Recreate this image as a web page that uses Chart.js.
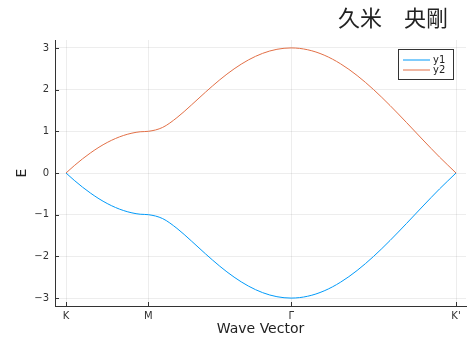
<!DOCTYPE html>
<html>
<head>
<meta charset="utf-8">
<script src="https://cdn.jsdelivr.net/npm/chart.js@4/dist/chart.umd.min.js"></script>
<style>
    body { margin: 0; background: #fff; }
    #wrap { width: 473px; height: 338px; }
</style>
</head>
<body>
<div id="wrap"><canvas id="chart1" width="473" height="338"></canvas></div>
<script>
// ===== Data =====
const waveVector = [
    0, 0.1, 0.2, 0.3, 0.4, 0.5, 0.6, 0.7, 0.8, 0.9, 1,
    1.173, 1.346, 1.520, 1.693, 1.866, 2.039, 2.212, 2.386, 2.559, 2.732,
    2.932, 3.132, 3.332, 3.532, 3.732, 3.932, 4.132, 4.332, 4.532, 4.732
];
const y1 = [
    0, -0.176, -0.339, -0.486, -0.618, -0.732, -0.827, -0.902, -0.956, -0.989, -1.000,
    -1.094, -1.328, -1.628, -1.940, -2.236, -2.497, -2.711, -2.870, -2.967, -3.000,
    -2.956, -2.827, -2.618, -2.338, -2.000, -1.618, -1.209, -0.791, -0.382, 0
];
const y2 = [
    0, 0.176, 0.339, 0.486, 0.618, 0.732, 0.827, 0.902, 0.956, 0.989, 1.000,
    1.094, 1.328, 1.628, 1.940, 2.236, 2.497, 2.711, 2.870, 2.967, 3.000,
    2.956, 2.827, 2.618, 2.338, 2.000, 1.618, 1.209, 0.791, 0.382, 0
];
const xTickPos = [0, 1, 2.732, 4.732];
const xTickLabels = ["K", "M", "Γ", "K'"];
const yTicks = [-3, -2, -1, 0, 1, 2, 3];
const seriesNames = ["y1", "y2"];
const seriesColors = ["#009af9", "#e26f46"];

const axisColor = "#333333";
const gridColor = "rgba(0,0,0,0.07)";

// ===== Extras: title, axis labels, inward ticks, legend =====
const decor = {
    id: "decor",
    afterDraw(chart) {
        const ctx = chart.ctx;
        const a = chart.chartArea;
        const xs = chart.scales.x;
        const ys = chart.scales.y;
        ctx.save();

        // inward tick marks
        ctx.strokeStyle = axisColor;
        ctx.lineWidth = 1;
        ctx.beginPath();
        xTickPos.forEach(v => {
            const px = Math.round(xs.getPixelForValue(v)) + 0.5;
            ctx.moveTo(px, a.bottom);
            ctx.lineTo(px, a.bottom - 4);
        });
        yTicks.forEach(v => {
            const py = Math.round(ys.getPixelForValue(v)) + 0.5;
            ctx.moveTo(a.left, py);
            ctx.lineTo(a.left + 4, py);
        });
        ctx.stroke();

        // title
        ctx.fillStyle = "#222";
        ctx.font = "22px 'Noto Sans CJK JP'";
        ctx.textAlign = "right";
        ctx.textBaseline = "alphabetic";
        ctx.fillText("久米　央剛", 448, 26);

        // axis labels
        ctx.font = "14px 'DejaVu Sans'";
        ctx.textAlign = "center";
        ctx.textBaseline = "middle";
        ctx.fillText("Wave Vector", (a.left + a.right) / 2, 329);
        ctx.save();
        ctx.translate(22, (a.top + a.bottom) / 2);
        ctx.rotate(-Math.PI / 2);
        ctx.fillText("E", 0, 0);
        ctx.restore();

        // legend box
        ctx.fillStyle = "#fff";
        ctx.fillRect(398.5, 49.5, 55, 30);
        ctx.strokeStyle = axisColor;
        ctx.strokeRect(398.5, 49.5, 55, 30);
        ctx.font = "10px 'DejaVu Sans'";
        ctx.textAlign = "left";
        chart.data.datasets.forEach((ds, i) => {
            const ly = 60 + i * 10;
            ctx.strokeStyle = ds.borderColor;
            ctx.beginPath();
            ctx.moveTo(403, ly);
            ctx.lineTo(430, ly);
            ctx.stroke();
            ctx.fillStyle = "#222";
            ctx.fillText(ds.label, 433, ly);
        });

        ctx.restore();
    }
};

const ctx1 = document.getElementById("chart1");

new Chart(ctx1, {
    type: "line",
    data: {
        datasets: [y1, y2].map((vals, i) => ({
            label: seriesNames[i],
            data: waveVector.map((x, j) => ({ x: x, y: vals[j] })),
            borderColor: seriesColors[i],
            borderWidth: 1,
            pointRadius: 0,
            fill: false,
            cubicInterpolationMode: "monotone"
        }))
    },
    options: {
        responsive: false,
        animation: false,
        layout: { padding: { top: 40, right: 7, left: 0, bottom: 0 } },
        plugins: {
            legend: { display: false },
            tooltip: { enabled: false }
        },
        scales: {
            x: {
                type: "linear",
                min: -0.1335,
                max: 4.853,
                afterBuildTicks: s => { s.ticks = xTickPos.map(v => ({ value: v })); },
                afterFit: s => { s.height = 32; },
                ticks: {
                    autoSkip: false,
                    maxRotation: 0,
                    padding: 4,
                    color: "#333",
                    font: { family: "DejaVu Sans", size: 10 },
                    callback: (v, i) => xTickLabels[i]
                },
                grid: { color: gridColor, drawTicks: false },
                border: { color: axisColor, width: 1 }
            },
            y: {
                min: -3.19,
                max: 3.19,
                afterBuildTicks: s => { s.ticks = yTicks.map(v => ({ value: v })); },
                afterFit: s => { s.width = 55; },
                ticks: {
                    padding: 6,
                    color: "#333",
                    font: { family: "DejaVu Sans", size: 10 },
                    callback: v => v < 0 ? "\u2212" + Math.abs(v) : String(v)
                },
                grid: { color: gridColor, drawTicks: false },
                border: { color: axisColor, width: 1 }
            }
        }
    },
    plugins: [decor]
});
</script>
</body>
</html>
